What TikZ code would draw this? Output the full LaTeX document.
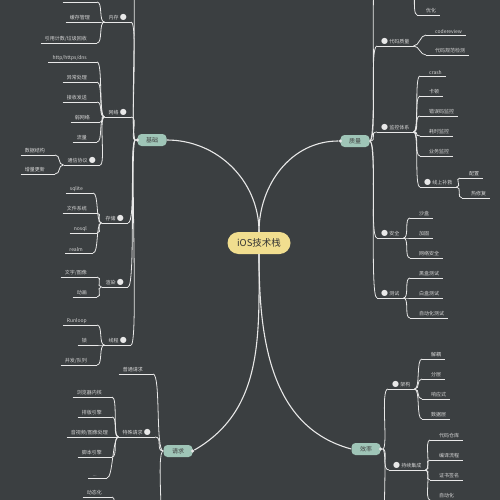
\documentclass[tikz,border=0pt]{standalone}
\usepackage{fontspec}
\setmainfont{Noto Sans CJK SC}
\newfontfamily\symfont{DejaVu Sans}
\definecolor{bgcol}{HTML}{3B3F41}
\definecolor{linecol}{HTML}{E8E8E8}
\definecolor{txtcol}{HTML}{D6D6D6}
\definecolor{rootcol}{HTML}{F1DE8F}
\definecolor{maincol}{HTML}{9FC5B7}
\newcommand{\knob}{\textcolor{linecol}{\symfont\fontsize{8}{8}\selectfont ●}}
\tikzset{
  root/.style={fill=rootcol, rounded corners=11pt, minimum width=63pt, minimum height=22pt, inner sep=0pt, text=black!80, font=\fontsize{9.5}{10}\selectfont},
  mainbox/.style={fill=maincol, rounded corners=4pt, minimum width=29pt, minimum height=12pt, inner sep=0pt, text=black!75, font=\fontsize{6}{7}\selectfont},
  tab/.style={circle, fill=linecol, inner sep=0pt, minimum size=3.5pt},
  topic/.style={text=txtcol, font=\fontsize{5}{6}\selectfont, inner xsep=4pt, inner ysep=1.5pt,
    append after command={(\tikzlastnode.south west) edge[draw=linecol, line width=0.7pt] (\tikzlastnode.south east)}},
  lnode/.style={topic, anchor=south east, execute at end node={\hspace{6pt}}},
  rnode/.style={topic, anchor=south west, execute at begin node={\hspace{5pt}}},
  lbranch/.style={topic, anchor=south east, execute at end node={\ \knob}},
  rbranch/.style={topic, anchor=south west, execute at begin node={\knob\ }},
  link/.style={draw=linecol, line width=0.8pt},
  lcurve/.style={to path={.. controls +(-#1,0) and +(#1,0) .. (\tikztotarget)}},
  lcurve/.default=6,
  rcurve/.style={to path={.. controls +(#1,0) and +(-#1,0) .. (\tikztotarget)}},
  rcurve/.default=6,
}
\begin{document}
\begin{tikzpicture}[x=1pt,y=1pt]
\fill[bgcol] (0,0) rectangle (500,-500);
\useasboundingbox (0,0) rectangle (500,-500);
\clip (0,0) rectangle (500,-500);

% centre and main topics
\node[root] (ios) at (259,-243) {iOS技术栈};
\node[mainbox] (jc) at (152,-140) {基础};
\node[mainbox] (zl) at (355,-141) {质量};
\node[mainbox] (qq) at (178,-451) {请求};
\node[mainbox] (xl) at (366,-449) {效率};
\node[tab] (jcdot) at (jc.west) {};
\node[tab] (zldot) at (zl.west) {};
\node[tab] (qqdot) at (qq.east) {};
\node[tab] (xldot) at (xl.east) {};

% off the page
\coordinate (jctop) at (131,40);
\coordinate (zltop) at (377,40);
\coordinate (yhtop) at (412,30);
\coordinate (qqbot) at (158,-540);
\coordinate (dtbot) at (118,-530);
\coordinate (xlbot) at (388,-540);

% 基础
\node[lbranch] (nc) at (131,-22) {内存};
\node[lbranch] (wl) at (131,-117) {网络};
\node[lbranch] (cc) at (128,-223) {存储};
\node[lbranch] (xr) at (128,-287) {渲染};
\node[lbranch] (xc) at (131,-345) {线程};

\node[lnode, minimum width=34pt] (nc0) at (97,-2) {};
\node[lnode] (hc) at (100,-22) {缓存管理};
\node[lnode] (yy) at (97,-43) {引用计数/垃圾回收};

\node[lnode] (dns) at (97,-62) {http/https/dns};
\node[lnode] (yc) at (97,-82) {异常处理};
\node[lnode] (js) at (97,-102) {接收发送};
\node[lnode] (rw) at (100,-122) {弱网络};
\node[lnode] (ll) at (97,-142) {流量};
\node[lbranch] (tx) at (100,-165) {通信协议};
\node[lnode] (sj) at (55,-155) {数据结构};
\node[lnode] (zg) at (55,-174) {增量更新};

\node[lnode] (sq) at (93,-193) {sqlite};
\node[lnode] (wj) at (97,-213) {文件系统};
\node[lnode] (ns) at (97,-233) {nosql};
\node[lnode] (rm) at (93,-253) {realm};

\node[lnode] (wz) at (97,-277) {文字/图像};
\node[lnode] (dh) at (97,-297) {动画};

\node[lnode] (rl) at (97,-325) {Runloop};
\node[lnode] (so) at (97,-345) {锁};
\node[lnode] (bf) at (97,-365) {并发/队列};

% 质量
\node[rbranch] (dm) at (377,-46) {代码质量};
\node[rbranch] (jk) at (377,-132) {监控体系};
\node[rbranch] (aq) at (377,-238) {安全};
\node[rbranch] (cs) at (377,-298) {测试};

\node[rnode] (yh) at (417,-15) {优化};
\node[rnode] (cr) at (426,-35) {codereview};
\node[rnode] (gf) at (426,-55) {代码规范检测};

\node[rnode] (ch) at (420,-76) {crash};
\node[rnode] (kd) at (420,-96) {卡顿};
\node[rnode] (cw) at (420,-116) {错误码监控};
\node[rnode] (hs) at (420,-136) {耗时监控};
\node[rnode] (yw) at (420,-156) {业务监控};
\node[rbranch] (bj) at (420,-187) {线上补救};
\node[rnode] (pz) at (460,-178) {配置};
\node[rnode] (rx) at (462,-198) {热修复};

\node[rnode] (sh) at (410,-218) {沙盒};
\node[rnode] (jg) at (410,-238) {加固};
\node[rnode] (wa) at (410,-258) {网络安全};

\node[rnode] (hh) at (410,-278) {黑盒测试};
\node[rnode] (bh) at (410,-298) {白盒测试};
\node[rnode] (zc) at (410,-318) {自动化测试};

% 请求
\node[lnode] (pt) at (153,-374) {普通请求};
\node[lbranch] (ts) at (155,-437) {特殊请求};
\node[lnode] (ll2) at (112,-397) {浏览器内核};
\node[lnode] (pb) at (112,-417) {排版引擎};
\node[lnode] (ysp) at (118,-437) {音视频/图像处理};
\node[lnode] (jb) at (112,-457) {脚本引擎};
\node[lnode] (etc) at (107,-478) {...};
\node[lnode] (dt) at (112,-497) {动态化};

% 效率
\node[rbranch] (jgou) at (388,-389) {架构};
\node[rbranch] (cx) at (389,-470) {持续集成};
\node[rnode] (jo) at (422,-359) {解耦};
\node[rnode] (fc) at (422,-379) {分层};
\node[rnode] (xy) at (422,-399) {响应式};
\node[rnode] (sjc) at (422,-419) {数据层};
\node[rnode] (ck) at (430,-440) {代码仓库};
\node[rnode] (by) at (430,-460) {编译流程};
\node[rnode] (zs) at (430,-480) {证书签名};
\node[rnode] (zd) at (430,-500) {自动化};

% centre curves
\draw[link, line width=1.1pt] (ios.north) to[out=90,in=0] (jc.east);
\draw[link, line width=1.1pt] (ios.north) to[out=90,in=180] (zldot);
\draw[link, line width=1.1pt] (ios.south) to[out=-90,in=30] (qqdot);
\draw[link, line width=1.1pt] (ios.south) to[out=-90,in=165] (xl.west);

% 基础 links
\draw[link] (jcdot) to[lcurve=8] (jctop);
\draw[link] (jcdot) to[lcurve=8] (nc.south east);
\draw[link] (jcdot) to[lcurve=8] (wl.south east);
\draw[link] (jcdot) to[lcurve=8] (cc.south east);
\draw[link] (jcdot) to[lcurve=8] (xr.south east);
\draw[link] (jcdot) to[lcurve=8] (xc.south east);
\draw[link] (nc.south west) to[lcurve] (nc0.south east);
\draw[link] (nc.south west) to[lcurve] (hc.south east);
\draw[link] (nc.south west) to[lcurve] (yy.south east);
\draw[link] (wl.south west) to[lcurve] (dns.south east);
\draw[link] (wl.south west) to[lcurve] (yc.south east);
\draw[link] (wl.south west) to[lcurve] (js.south east);
\draw[link] (wl.south west) to[lcurve] (rw.south east);
\draw[link] (wl.south west) to[lcurve] (ll.south east);
\draw[link] (wl.south west) to[lcurve] (tx.south east);
\draw[link] (tx.south west) to[lcurve] (sj.south east);
\draw[link] (tx.south west) to[lcurve] (zg.south east);
\draw[link] (cc.south west) to[lcurve] (sq.south east);
\draw[link] (cc.south west) to[lcurve] (wj.south east);
\draw[link] (cc.south west) to[lcurve] (ns.south east);
\draw[link] (cc.south west) to[lcurve] (rm.south east);
\draw[link] (xr.south west) to[lcurve] (wz.south east);
\draw[link] (xr.south west) to[lcurve] (dh.south east);
\draw[link] (xc.south west) to[lcurve] (rl.south east);
\draw[link] (xc.south west) to[lcurve] (so.south east);
\draw[link] (xc.south west) to[lcurve] (bf.south east);

% 质量 links
\draw[link] (zl.east) to[rcurve=8] (zltop);
\draw[link] (zl.east) to[rcurve=8] (dm.south west);
\draw[link] (zl.east) to[rcurve=8] (jk.south west);
\draw[link] (zl.east) to[rcurve=8] (aq.south west);
\draw[link] (zl.east) to[rcurve=8] (cs.south west);
\draw[link] (yhtop) to[rcurve] (yh.south west);
\draw[link] (dm.south east) to[rcurve] (cr.south west);
\draw[link] (dm.south east) to[rcurve] (gf.south west);
\draw[link] (jk.south east) to[rcurve] (ch.south west);
\draw[link] (jk.south east) to[rcurve] (kd.south west);
\draw[link] (jk.south east) to[rcurve] (cw.south west);
\draw[link] (jk.south east) to[rcurve] (hs.south west);
\draw[link] (jk.south east) to[rcurve] (yw.south west);
\draw[link] (jk.south east) to[rcurve] (bj.south west);
\draw[link] (bj.south east) to[rcurve] (pz.south west);
\draw[link] (bj.south east) to[rcurve] (rx.south west);
\draw[link] (aq.south east) to[rcurve] (sh.south west);
\draw[link] (aq.south east) to[rcurve] (jg.south west);
\draw[link] (aq.south east) to[rcurve] (wa.south west);
\draw[link] (cs.south east) to[rcurve] (hh.south west);
\draw[link] (cs.south east) to[rcurve] (bh.south west);
\draw[link] (cs.south east) to[rcurve] (zc.south west);

% 请求 links
\draw[link] (qq.west) to[lcurve=8] (pt.south east);
\draw[link] (qq.west) to[lcurve=8] (ts.south east);
\draw[link] (qq.west) to[lcurve=8] (qqbot);
\draw[link] (ts.south west) to[lcurve] (ll2.south east);
\draw[link] (ts.south west) to[lcurve] (pb.south east);
\draw[link] (ts.south west) to[lcurve] (ysp.south east);
\draw[link] (ts.south west) to[lcurve] (jb.south east);
\draw[link] (ts.south west) to[lcurve] (etc.south east);
\draw[link] (dtbot) to[lcurve] (dt.south east);

% 效率 links
\draw[link] (xldot) to[rcurve=8] (jgou.south west);
\draw[link] (xldot) to[rcurve=8] (cx.south west);
\draw[link] (xldot) to[rcurve=8] (xlbot);
\draw[link] (jgou.south east) to[rcurve] (jo.south west);
\draw[link] (jgou.south east) to[rcurve] (fc.south west);
\draw[link] (jgou.south east) to[rcurve] (xy.south west);
\draw[link] (jgou.south east) to[rcurve] (sjc.south west);
\draw[link] (cx.south east) to[rcurve] (ck.south west);
\draw[link] (cx.south east) to[rcurve] (by.south west);
\draw[link] (cx.south east) to[rcurve] (zs.south west);
\draw[link] (cx.south east) to[rcurve] (zd.south west);

\end{tikzpicture}
\end{document}
